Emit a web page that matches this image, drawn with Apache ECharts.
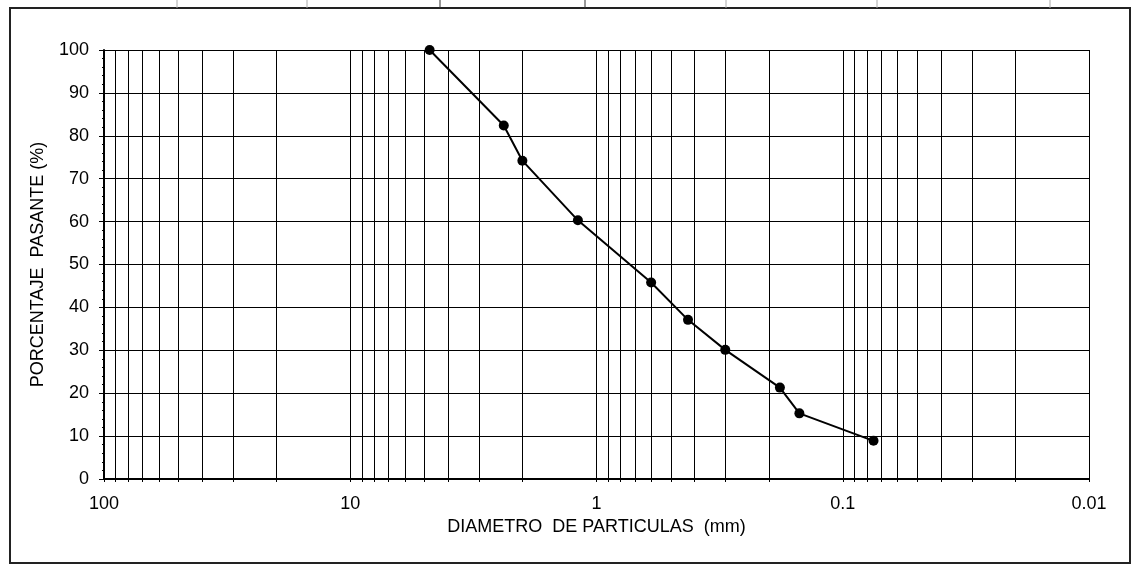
<!DOCTYPE html>
<html>
<head>
<meta charset="utf-8">
<script src="https://cdn.jsdelivr.net/npm/echarts@6/dist/echarts.min.js"></script>
<style>
html,body{margin:0;padding:0;background:#fff;}
#chart{width:1132px;height:567px;}
</style>
</head>
<body>
<div id="chart"></div>
<script>
// Particle diameters (mm) and percent passing
const diameters = [4.76, 2.38, 2.00, 1.19, 0.60, 0.425, 0.30, 0.18, 0.15, 0.075];
const passing = [100, 82.4, 74.2, 60.3, 45.8, 37.1, 30.1, 21.3, 15.3, 8.9];
const xMin = 0.01, xMax = 100;
const yTicks = [0, 10, 20, 30, 40, 50, 60, 70, 80, 90, 100];
const xTickLabels = ['100', '10', '1', '0.1', '0.01'];
const xTitle = 'DIAMETRO  DE PARTICULAS  (mm)';
const yTitle = 'PORCENTAJE  PASANTE (%)';

// minor log grid values (2..9 in each decade)
const decades = [0.01, 0.1, 1, 10];
const minorX = [];
decades.forEach(d => { for (let k = 2; k <= 9; k++) minorX.push(+(k * d).toPrecision(3)); });

const FONT = 'Liberation Sans, Arial, sans-serif';
const chart = echarts.init(document.getElementById('chart'), null, {renderer: 'canvas'});
const topTicks = [177, 307, 440, 585, 726, 877, 1050];
const graphics = [{
  type: 'rect', shape: {x: 10, y: 8, width: 1120, height: 555},
  style: {fill: 'none', stroke: '#222', lineWidth: 2}, silent: true, z: -1
}];
topTicks.forEach((x, i) => graphics.push({
  type: 'line', shape: {x1: x, y1: 0, x2: x, y2: 8},
  style: {stroke: (i === 2 || i === 3) ? '#333' : '#aaa', lineWidth: 1}, silent: true
}));

chart.setOption({
  animation: false,
  backgroundColor: '#fff',
  graphic: graphics,
  grid: {left: 104, right: 43, top: 50, bottom: 88},
  xAxis: {
    type: 'log', logBase: 10, min: xMin, max: xMax, inverse: true,
    name: xTitle, nameLocation: 'middle', nameGap: 27,
    nameTextStyle: {fontFamily: FONT, fontSize: 18, color: '#000'},
    axisLine: {show: true, onZero: false, lineStyle: {color: '#000', width: 2}},
    axisTick: {show: true, length: 3, lineStyle: {color: '#000'}},
    axisLabel: {
      fontFamily: FONT, fontSize: 18, color: '#000', margin: 16,
      showMinLabel: true, showMaxLabel: true,
      formatter: v => { const s = String(+(+v).toPrecision(3)); return xTickLabels.indexOf(s) >= 0 ? s : ''; }
    },
    splitLine: {show: true, lineStyle: {color: '#000', width: 1}}
  },
  yAxis: {
    type: 'value', min: 0, max: 100, interval: 10,
    name: yTitle, nameLocation: 'middle', nameGap: 57, nameRotate: 90,
    nameTextStyle: {fontFamily: FONT, fontSize: 18, color: '#000'},
    axisLine: {show: true, lineStyle: {color: '#000', width: 2}},
    axisTick: {show: true, length: 5, lineStyle: {color: '#000'}},
    minorTick: {show: true, splitNumber: 5, length: 2, lineStyle: {color: '#000'}},
    axisLabel: {fontFamily: FONT, fontSize: 18, color: '#000', margin: 15},
    splitLine: {show: true, lineStyle: {color: '#000', width: 1}}
  },
  series: [
    {
      type: 'custom', silent: true, z: 1,
      data: minorX.map(v => [v, 0]),
      renderItem: (params, api) => {
        const v = api.value(0);
        const a = api.coord([v, 100]);
        const b = api.coord([v, 0]);
        const x = Math.round(a[0]) + 0.5;
        return {type: 'line', shape: {x1: x, y1: a[1], x2: x, y2: b[1] + 3},
                style: {stroke: '#000', lineWidth: 1}};
      }
    },
    {
      type: 'line', z: 5,
      data: diameters.map((d, i) => [d, passing[i]]),
      symbol: 'circle', symbolSize: 10,
      itemStyle: {color: '#000'},
      lineStyle: {color: '#000', width: 2}
    }
  ]
});
</script>
</body>
</html>
